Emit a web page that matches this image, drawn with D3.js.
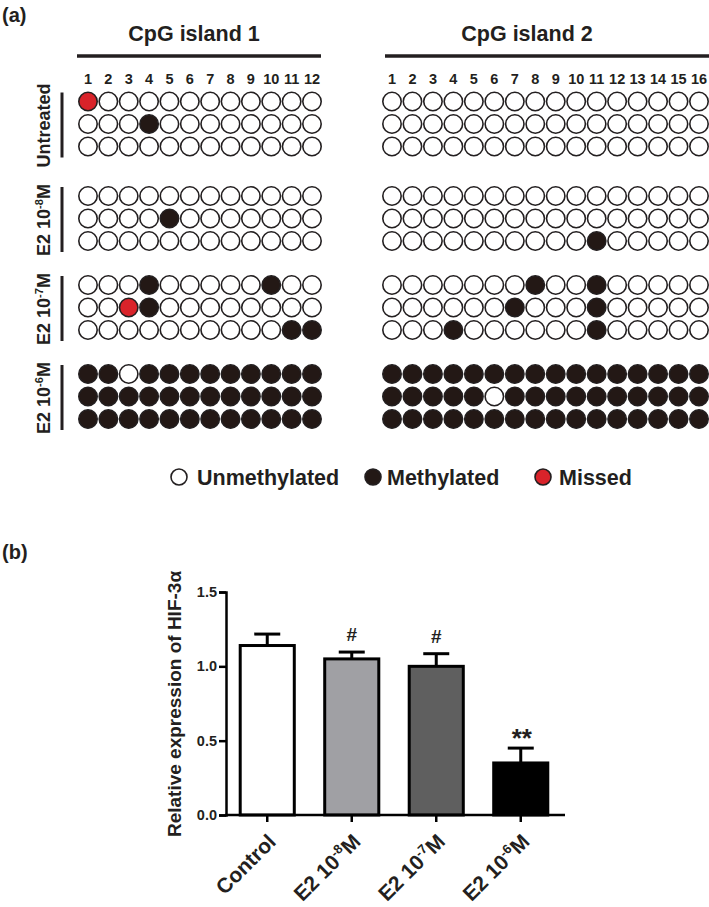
<!DOCTYPE html>
<html>
<head>
<meta charset="utf-8">
<script src="https://cdn.jsdelivr.net/npm/d3@7"></script>
<style>
  html, body { margin: 0; padding: 0; background: #fff; }
  svg { display: block; }
  text { font-family: "Liberation Sans", Arial, sans-serif; font-weight: bold; fill: #231f20; }
</style>
</head>
<body>
<script>
// ---------------- DATA ----------------
// Methylation status: 0 = unmethylated, 1 = methylated, 2 = missed
const treatments = ["Untreated", "E2 10-8M", "E2 10-7M", "E2 10-6M"];
const treatmentExp = [null, "-8", "-7", "-6"];
const island1Sites = [1,2,3,4,5,6,7,8,9,10,11,12];
const island2Sites = [1,2,3,4,5,6,7,8,9,10,11,12,13,14,15,16];

const island1Untreated = [
  [2,0,0,0,0,0,0,0,0,0,0,0],
  [0,0,0,1,0,0,0,0,0,0,0,0],
  [0,0,0,0,0,0,0,0,0,0,0,0]];
const island1E2_8 = [
  [0,0,0,0,0,0,0,0,0,0,0,0],
  [0,0,0,0,1,0,0,0,0,0,0,0],
  [0,0,0,0,0,0,0,0,0,0,0,0]];
const island1E2_7 = [
  [0,0,0,1,0,0,0,0,0,1,0,0],
  [0,0,2,1,0,0,0,0,0,0,0,0],
  [0,0,0,0,0,0,0,0,0,0,1,1]];
const island1E2_6 = [
  [1,1,0,1,1,1,1,1,1,1,1,1],
  [1,1,1,1,1,1,1,1,1,1,1,1],
  [1,1,1,1,1,1,1,1,1,1,1,1]];

const island2Untreated = [
  [0,0,0,0,0,0,0,0,0,0,0,0,0,0,0,0],
  [0,0,0,0,0,0,0,0,0,0,0,0,0,0,0,0],
  [0,0,0,0,0,0,0,0,0,0,0,0,0,0,0,0]];
const island2E2_8 = [
  [0,0,0,0,0,0,0,0,0,0,0,0,0,0,0,0],
  [0,0,0,0,0,0,0,0,0,0,0,0,0,0,0,0],
  [0,0,0,0,0,0,0,0,0,0,1,0,0,0,0,0]];
const island2E2_7 = [
  [0,0,0,0,0,0,0,1,0,0,1,0,0,0,0,0],
  [0,0,0,0,0,0,1,0,0,0,1,0,0,0,0,0],
  [0,0,0,1,0,0,0,0,0,0,1,0,0,0,0,0]];
const island2E2_6 = [
  [1,1,1,1,1,1,1,1,1,1,1,1,1,1,1,1],
  [1,1,1,1,1,0,1,1,1,1,1,1,1,1,1,1],
  [1,1,1,1,1,1,1,1,1,1,1,1,1,1,1,1]];

const legendLabels = ["Unmethylated", "Methylated", "Missed"];

// Bar chart
const barCategories = ["Control", "E2 10-8M", "E2 10-7M", "E2 10-6M"];
const barExp = [null, "-8", "-7", "-6"];
const barValues = [1.14, 1.05, 1.00, 0.35];
const barErrors = [0.077, 0.046, 0.085, 0.10];
const barMarks = ["", "#", "#", "**"];
const yTicks = [0, 0.5, 1.0, 1.5];

// ---------------- STYLE ----------------
const statusFill = ["#ffffff", "#231815", "#d9232a"];
const barFills = ["#ffffff", "#a0a0a4", "#5f5f5f", "#000000"];

const W = 709, H = 907;
const svg = d3.select("body").append("svg").attr("width", W).attr("height", H);

// Panel labels
svg.append("text").attr("x", 2).attr("y", 22).attr("font-size", 20).text("(a)");
svg.append("text").attr("x", 2).attr("y", 559).attr("font-size", 20).text("(b)");

// ---------------- PANEL A ----------------
const islands = [
  { title: "CpG island 1", sites: island1Sites, data: [island1Untreated, island1E2_8, island1E2_7, island1E2_6],
    x0: 88, x1: 312, line: [77, 321], titleX: 194 },
  { title: "CpG island 2", sites: island2Sites, data: [island2Untreated, island2E2_8, island2E2_7, island2E2_6],
    x0: 392, x1: 699, line: [385, 712], titleX: 527 }
];
const groupY = [101.5, 196, 285, 374];
const rowStep = 22.5;
const R = 9.2;

islands.forEach(isl => {
  const x = d3.scalePoint().domain(isl.sites).range([isl.x0, isl.x1]);
  const g = svg.append("g");
  g.append("text").attr("x", isl.titleX).attr("y", 40.5).attr("text-anchor", "middle")
    .attr("font-size", 21.5).text(isl.title);
  g.append("line").attr("x1", isl.line[0]).attr("x2", isl.line[1]).attr("y1", 56).attr("y2", 56)
    .attr("stroke", "#231f20").attr("stroke-width", 3.5);
  g.selectAll("text.site").data(isl.sites).join("text").attr("class", "site")
    .attr("x", d => x(d)).attr("y", 84).attr("text-anchor", "middle").attr("font-size", 14.5)
    .text(d => d);
  isl.data.forEach((grp, gi) => {
    grp.forEach((row, ri) => {
      g.selectAll(null).data(row.map((s, i) => ({ s, site: isl.sites[i] }))).join("circle")
        .attr("cx", d => x(d.site)).attr("cy", groupY[gi] + ri * rowStep).attr("r", R)
        .attr("fill", d => statusFill[d.s])
        .attr("stroke", "#231f20").attr("stroke-width", 1.6);
    });
  });
});

// Row labels with vertical bars
treatments.forEach((t, gi) => {
  const top = groupY[gi] - 9, bot = groupY[gi] + 2 * rowStep + 11;
  svg.append("line").attr("x1", 62).attr("x2", 62).attr("y1", top).attr("y2", bot)
    .attr("stroke", "#231f20").attr("stroke-width", 3);
  const cy = groupY[gi] + rowStep + 1.5;
  const txt = svg.append("text").attr("transform", `translate(50,${cy}) rotate(-90)`)
    .attr("text-anchor", "middle").attr("font-size", 18);
  if (treatmentExp[gi] === null) {
    txt.text(t);
  } else {
    txt.append("tspan").text("E2 10");
    txt.append("tspan").attr("font-size", 11).attr("dy", -7).text(treatmentExp[gi]);
    txt.append("tspan").attr("dy", 7).text("M");
  }
});

// Legend
const legendPos = [{ cx: 179, tx: 197 }, { cx: 373, tx: 387 }, { cx: 543, tx: 559 }];
legendLabels.forEach((l, i) => {
  svg.append("circle").attr("cx", legendPos[i].cx).attr("cy", 477).attr("r", 8)
    .attr("fill", statusFill[i]).attr("stroke", "#231f20").attr("stroke-width", 1.6);
  svg.append("text").attr("x", legendPos[i].tx).attr("y", 485).attr("font-size", 21.5).text(l);
});

// ---------------- PANEL B ----------------
const y = d3.scaleLinear().domain([0, 1.5]).range([815, 592]);
const xb = d3.scaleBand().domain(barCategories).range([225, 563]).paddingInner(0.36).paddingOuter(0.18);

const gb = svg.append("g");
barCategories.forEach((c, i) => {
  const cx = xb(c) + xb.bandwidth() / 2;
  const top = y(barValues[i] + barErrors[i]);
  gb.append("line").attr("x1", cx).attr("x2", cx).attr("y1", y(barValues[i])).attr("y2", top)
    .attr("stroke", "#000").attr("stroke-width", 3);
  gb.append("line").attr("x1", cx - 13).attr("x2", cx + 13).attr("y1", top).attr("y2", top)
    .attr("stroke", "#000").attr("stroke-width", 3);
  gb.append("rect").attr("x", xb(c)).attr("width", xb.bandwidth())
    .attr("y", y(barValues[i])).attr("height", y(0) - y(barValues[i]))
    .attr("fill", barFills[i]).attr("stroke", "#000").attr("stroke-width", 3);
  if (barMarks[i]) {
    const isStar = barMarks[i] === "**";
    gb.append("text").attr("x", cx + (isStar ? 1 : 0))
      .attr("y", top - (isStar ? 1 : 11))
      .attr("text-anchor", "middle").attr("font-size", isStar ? 26 : 19)
      .text(barMarks[i]);
  }
});

// y axis
const yAxis = gb.append("g").attr("transform", "translate(226,0)")
  .call(d3.axisLeft(y).tickValues(yTicks).tickFormat(d3.format(".1f")).tickSize(7).tickPadding(2));
yAxis.select(".domain").attr("stroke", "#000").attr("stroke-width", 2.5);
yAxis.selectAll(".tick line").attr("stroke", "#000").attr("stroke-width", 2.5);
yAxis.selectAll(".tick text").attr("font-size", 14.5).attr("fill", "#231f20")
  .style("font-family", "'Liberation Sans', Arial, sans-serif").style("font-weight", "bold");

// x axis
gb.append("line").attr("x1", 225).attr("x2", 565).attr("y1", 815).attr("y2", 815)
  .attr("stroke", "#000").attr("stroke-width", 2.5);
barCategories.forEach((c, i) => {
  const cx = xb(c) + xb.bandwidth() / 2;
  gb.append("line").attr("x1", cx).attr("x2", cx).attr("y1", 815).attr("y2", 822)
    .attr("stroke", "#000").attr("stroke-width", 2.5);
  const t = gb.append("text").attr("transform", `translate(${cx + 10},${843}) rotate(-45)`)
    .attr("text-anchor", "end").attr("font-size", 21);
  if (barExp[i] === null) t.text(c);
  else {
    t.append("tspan").text("E2 10");
    t.append("tspan").attr("font-size", 13).attr("dy", -8).text(barExp[i]);
    t.append("tspan").attr("dy", 8).text("M");
  }
});

// y label
gb.append("text").attr("transform", "translate(181,704) rotate(-90)").attr("text-anchor", "middle")
  .attr("font-size", 19).text("Relative expression of HIF-3α");
</script>
</body>
</html>
